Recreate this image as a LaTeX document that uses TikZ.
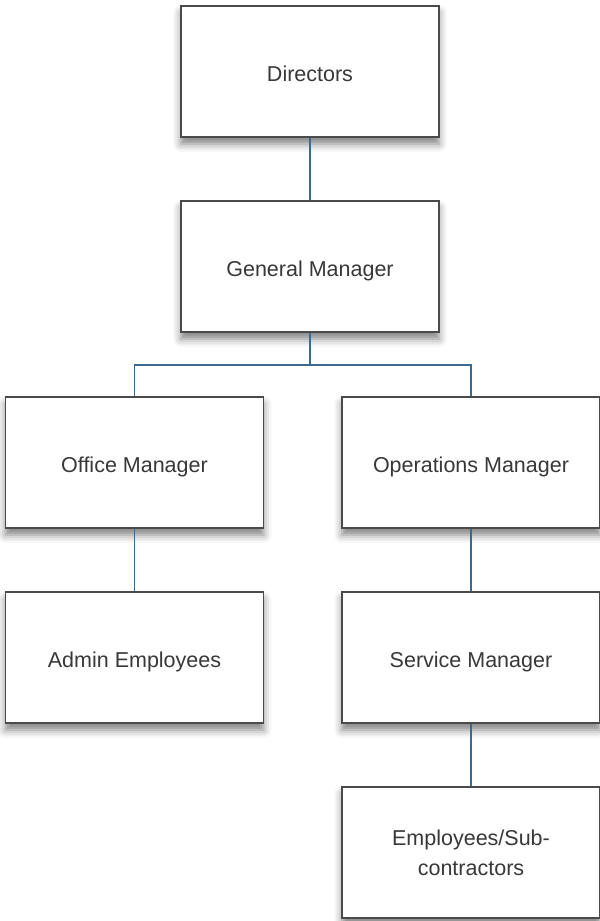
\documentclass[tikz,border=0pt]{standalone}
\usepackage{fontspec}
\setmainfont{Liberation Sans}
\usetikzlibrary{shadows.blur}

\definecolor{linkblue}{HTML}{3A6A92}
\definecolor{boxline}{HTML}{4A4A4A}
\definecolor{boxtext}{HTML}{383838}

\tikzset{
  rolebox/.style={draw=boxline, line width=1.5bp, fill=white,
    minimum width=258bp, minimum height=131bp, align=center,
    text=boxtext, font=\fontsize{21.5bp}{30bp}\selectfont,
    blur shadow={shadow xshift=0bp, shadow yshift=-7bp,
      shadow blur radius=8bp, shadow opacity=50}},
  roleline/.style={rolebox, text height=21bp, text depth=1bp},
  link/.style={linkblue, line width=1.4bp}
}

\begin{document}
\begin{tikzpicture}[x=1bp, y=-1bp]

    \useasboundingbox (0,0) rectangle (600,921);

    % Top of the chart
    \node[roleline] (dir) at (310,71.5) {Directors};
    \node[roleline] (gm) at (310,266.5) {General Manager};

    % Managers
    \node[roleline] (office) at (134.5,462.5) {Office Manager};
    \node[roleline] (ops) at (471,462.5) {Operations Manager};

    % Staff
    \node[roleline] (admin) at (134.5,657.5) {Admin Employees};
    \node[roleline] (service) at (471,657.5) {Service Manager};
    \node[rolebox] (emp) at (471,852.5) {Employees/Sub-\\contractors};

    % Connectors
    \coordinate (bus) at (310,365);
    \draw[link] (dir.south) -- (gm.north);
    \draw[link] (gm.south) -- (bus) -| (office.north);
    \draw[link] (bus) -| (ops.north);
    \draw[link] (office.south) -- (admin.north);
    \draw[link] (ops.south) -- (service.north);
    \draw[link] (service.south) -- (emp.north);
\end{tikzpicture}
\end{document}
